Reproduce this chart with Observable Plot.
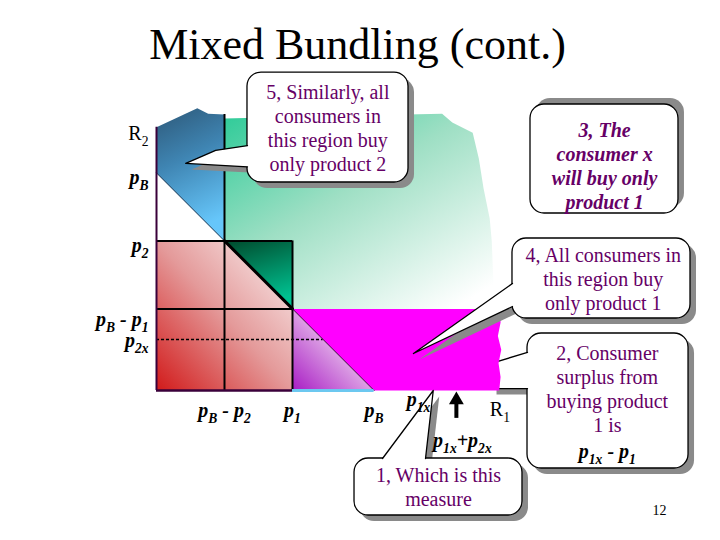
<!DOCTYPE html>
<html><head><meta charset="utf-8">
<script src="https://cdn.jsdelivr.net/npm/d3@7"></script>
<script src="https://cdn.jsdelivr.net/npm/@observablehq/plot@0.6"></script>
<style>body{margin:0;background:#fff}</style>
</head><body><div id="chart"></div>
<script>
// ---------- values (price units) ----------
const pB = 3.2, p1 = 2.0, p2 = 2.2, p2x = 0.75;
const R1 = 5.05, R2 = 3.87;
const p1x = 4.07, p1x_p2x = 4.41;

const xTickValues = [pB - p2, p1, pB];
const xTickLabels = ["p_B - p_2", "p_1", "p_B"];
const yTickValues = [pB, p2, pB - p1, p2x];
const yTickLabels = ["p_B", "p_2", "p_B - p_1", "p_{2x}"];

// irregular (hand drawn) edges of the regions
const blueTopEdge = [[0.6, 4.15], [0.76, 4.07], [1.0, 4.06]];
const greenTop = 4.0;
const greenRightEdge = [[4.2, 4.07], [4.35, 3.94], [4.65, 3.79], [4.74, 3.41], [4.81, 2.97], [4.9, 2.53], [4.93, 2.2], [4.97, 1.2]];
const magentaRightEdge = [[5.05, 1.2], [5.06, 1.0], [5.02, 0.8], [5.07, 0.6], [5.03, 0.4], [5.06, 0.2], [5.04, 0]];

const title = "Mixed Bundling (cont.)";
const pageNumber = "12";

// ---------- layout ----------
const K = 68, OX = 156, OY = 390, W = 720, H = 540;
const SERIF = "Liberation Serif, Times New Roman, serif";
const PURPLE = "#660066", SHADOW = "#8a8a8a";

const regions = {
  blue: [[0, pB], [0, R2], ...blueTopEdge, [pB - p2, p2]],
  green: [[pB - p2, greenTop], ...greenRightEdge, [p1, pB - p1], [p1, p2], [pB - p2, p2]],
  darkTri: [[pB - p2, p2], [p1, p2], [p1, pB - p1]],
  red: [[0, p2], [pB - p2, p2], [p1, pB - p1], [p1, 0], [0, 0]],
  purpleTri: [[p1, pB - p1], [p1, 0], [pB, 0]],
  magenta: [[p1, pB - p1], ...magentaRightEdge, [pB, 0]]
};

const callouts = [
  {x1: 1.338, x2: 3.706, y1: 4.676, y2: 3.059, shadow: [6, 6],
   tail: [[1.338, 3.60], [0.87, 3.53], [0.43, 3.34], [1.338, 3.29]], inward: [0.1, 0],
   text: "5, Similarly, all\nconsumers in\nthis region buy\nonly product 2", tx: 2.52, ty: 3.87, bold: false},
  {x1: 5.5, x2: 7.676, y1: 4.206, y2: 2.603, shadow: [6, -6],
   text: "3, The\nconsumer x\nwill buy only\nproduct 1", tx: 6.59, ty: 3.31, bold: true},
  {x1: 5.235, x2: 7.853, y1: 2.235, y2: 1.059, shadow: [6, 6],
   tail: [[5.235, 1.574], [3.779, 0.544], [5.235, 1.235]], inward: [0.1, 0],
   text: "4, All consumers in\nthis region buy\nonly product 1", tx: 6.57, ty: 1.647, bold: false},
  {x1: 2.912, x2: 5.382, y1: -1.0, y2: -1.838, shadow: [6, 6],
   tail: [[3.324, -1.0], [p1x, 0], [3.956, -1.0]], inward: [0, -0.1],
   text: "1, Which is this\nmeasure", tx: 4.147, ty: -1.412, bold: false}
];
const callout2 = {x1: 5.456, x2: 7.824, y1: 0.838, y2: -1.147, shadow: [6, 6],
  tail: [[5.456, 0.559], [4.912, 0.397], [4.912, 0.029], [5.456, 0.029]], inward: [0.1, 0],
  text: "2, Consumer\nsurplus from\nbuying product\n1 is", tx: 6.63, ty: 0.03, bold: false,
  extra: "p_{1x} - p_1", ey: -0.897};

// ---------- helpers ----------
const poly = (pts, o) => Plot.line(pts, {x: d => d[0], y: d => d[1], curve: "linear-closed", stroke: "none", ...o});
const path = (pts, o) => Plot.line(pts, {x: d => d[0], y: d => d[1], ...o});

function calloutMarks(c) {
  const [sx, sy] = c.shadow;
  const m = [];
  const box = {x1: "x1", x2: "x2", y1: "y1", y2: "y2", rx: 14, ry: 14};
  m.push(Plot.rect([c], {...box, fill: SHADOW, dx: sx, dy: sy}));
  if (c.tail) m.push(poly(c.tail, {fill: SHADOW, dx: sx, dy: sy}));
  m.push(Plot.rect([c], {...box, fill: "white", stroke: "black", strokeWidth: 1.3}));
  if (c.tail) {
    const [ix, iy] = c.inward, t = c.tail, a = t[0], b = t[t.length - 1];
    m.push(poly([[a[0] + ix, a[1] + iy], ...t, [b[0] + ix, b[1] + iy]], {fill: "white"}));
    m.push(path(t, {stroke: "black", strokeWidth: 1.3}));
  }
  m.push(Plot.text([c.text], {x: c.tx, y: c.ty, fontFamily: SERIF, fontSize: 20, lineHeight: 1.2,
    fill: PURPLE, fontWeight: c.bold ? "bold" : "normal", fontStyle: c.bold ? "italic" : "normal"}));
  return m;
}

const defs = () => {
  const d = d3.create("svg:defs");
  const grad = (id, x1, y1, x2, y2, stops) => {
    const g = d.append("linearGradient").attr("id", id)
      .attr("x1", x1).attr("y1", y1).attr("x2", x2).attr("y2", y2);
    for (const [o, c] of stops) g.append("stop").attr("offset", o).attr("stop-color", c);
  };
  grad("gBlue", 0, 0, 0.25, 1, [[0, "#2d5878"], [0.45, "#3f85b3"], [1, "#66c6fa"]]);
  grad("gGreen", 0, 0, 0.85, 1, [[0, "#2ecb98"], [0.45, "#9edfc4"], [1, "#ffffff"]]);
  grad("gDark", 0, 0, 0.3, 1, [[0, "#004a2c"], [1, "#00c090"]]);
  grad("gRed", 0, 1, 1, 0, [[0, "#d21a1a"], [0.5, "#e49a9a"], [1, "#fbf4f4"]]);
  grad("gPurple", 0, 1, 1, 0, [[0, "#a81cc4"], [0.5, "#dca0e4"], [1, "#f6e4f6"]]);
  return d.node();
};

const labelStyle = {fontFamily: SERIF, fontSize: 20, fontWeight: "bold", fontStyle: "italic", fill: "black"};
const yIdx = [0, 1, 2, 3];

const svg = Plot.plot({
  width: W, height: H, margin: 0,
  x: {domain: [-OX / K, (W - OX) / K], axis: null},
  y: {domain: [-(H - OY) / K, OY / K], axis: null},
  style: {background: "white", overflow: "visible"},
  marks: [
    defs,
    poly(regions.green, {fill: "url(#gGreen)"}),
    poly(regions.blue, {fill: "url(#gBlue)"}),
    poly(regions.red, {fill: "url(#gRed)"}),
    poly(regions.darkTri, {fill: "url(#gDark)"}),
    poly(regions.purpleTri, {fill: "url(#gPurple)"}),
    ...calloutMarks(callout2),
    Plot.text([callout2.extra], {x: callout2.tx, y: callout2.ey, ...labelStyle}),
    poly(regions.magenta, {fill: "#ff00ff"}),
    // lines of the diagram
    Plot.ruleY([p2, pB - p1], {x1: 0, x2: p1, stroke: "black", strokeWidth: 2}),
    Plot.ruleX([pB - p2], {y1: 0, y2: blueTopEdge[2][1], stroke: "black", strokeWidth: 2}),
    Plot.ruleX([p1], {y1: 0, y2: p2, stroke: "black", strokeWidth: 2}),
    Plot.ruleY([p2x], {x1: 0, x2: pB - p2x, stroke: "black", strokeWidth: 1.5, strokeDasharray: "3,2"}),
    path([[0, pB], [pB - p2, p2]], {stroke: "#1b3550", strokeWidth: 1}),
    path([[pB - p2, p2], [p1, pB - p1]], {stroke: "black", strokeWidth: 3}),
    path([[p1, pB - p1], [pB, 0]], {stroke: "#3a0a3a", strokeWidth: 1}),
    Plot.ruleY([0], {x1: p1, x2: pB, stroke: "#6cc8f0", strokeWidth: 3}),
    Plot.ruleX([0], {y1: 0, y2: R2, stroke: "#3a003a", strokeWidth: 2}),
    Plot.ruleY([0], {x1: 0, x2: p1, stroke: "#3a003a", strokeWidth: 2.5}),
    ...callouts.flatMap(calloutMarks),
    // axis labels
    Plot.text(yIdx.filter(i => i < 2), {x: 0, y: i => yTickValues[i], text: i => yTickLabels[i], textAnchor: "end", dx: -8, dy: 5, ...labelStyle}),
    Plot.text([2], {x: 0, y: i => yTickValues[i], text: i => yTickLabels[i], textAnchor: "end", dx: -8, dy: 11, ...labelStyle}),
    Plot.text([3], {x: 0, y: i => yTickValues[i], text: i => yTickLabels[i], textAnchor: "end", dx: -8, dy: 1, ...labelStyle}),
    Plot.text(xTickValues, {x: d => d, y: 0, text: (d, i) => xTickLabels[i], dy: 20, ...labelStyle}),
    Plot.text(["R_2"], {x: 0, y: R2, textAnchor: "end", dx: -8, dy: 6, fontFamily: SERIF, fontSize: 20}),
    Plot.text(["R_1"], {x: R1, y: 0, dy: 19, fontFamily: SERIF, fontSize: 20}),
    Plot.text(["p_{1x}"], {x: p1x, y: 0, textAnchor: "end", dx: -3, dy: 9, ...labelStyle}),
    Plot.text(["p_{1x}+p_{2x}"], {x: p1x_p2x, y: 0, dx: 6, dy: 50, ...labelStyle}),
    Plot.ruleX([p1x_p2x], {y1: -0.41, y2: -0.17, stroke: "black", strokeWidth: 4}),
    Plot.dot([p1x_p2x], {x: d => d, y: -0.14, symbol: "triangle", r: 5.5, fill: "black", stroke: "none"}),
    // title and page number
    Plot.text([title], {frameAnchor: "top", dx: -3, dy: 58, fontFamily: SERIF, fontSize: 44, lineAnchor: "bottom", fill: "black"}),
    Plot.text([pageNumber], {frameAnchor: "top-left", dx: 652, dy: 505, fontFamily: SERIF, fontSize: 14, fill: "black"})
  ]
});

// turn "p_B" / "p_{1x}" notation into subscripts (text stays real text)
d3.select(svg).selectAll("text").each(function () {
  if (this.querySelector("tspan")) return;
  const s = this.textContent;
  if (!s.includes("_")) return;
  const fs = parseFloat(getComputedStyle(this).fontSize) || 20;
  const shift = Math.round(fs * 0.28);
  this.textContent = "";
  const re = /_\{([^}]*)\}|_(.)/g;
  let last = 0, m, sub = false;
  const add = (str, isSub) => {
    if (!str) return;
    const t = d3.select(this).append("tspan").text(str);
    if (isSub) { t.attr("font-size", "0.68em").attr("dy", shift); sub = true; }
    else if (sub) { t.attr("dy", -shift); sub = false; }
  };
  while ((m = re.exec(s))) {
    add(s.slice(last, m.index), false);
    add(m[1] !== undefined ? m[1] : m[2], true);
    last = re.lastIndex;
  }
  add(s.slice(last), false);
});

document.getElementById("chart").appendChild(svg);
</script>
</body></html>
